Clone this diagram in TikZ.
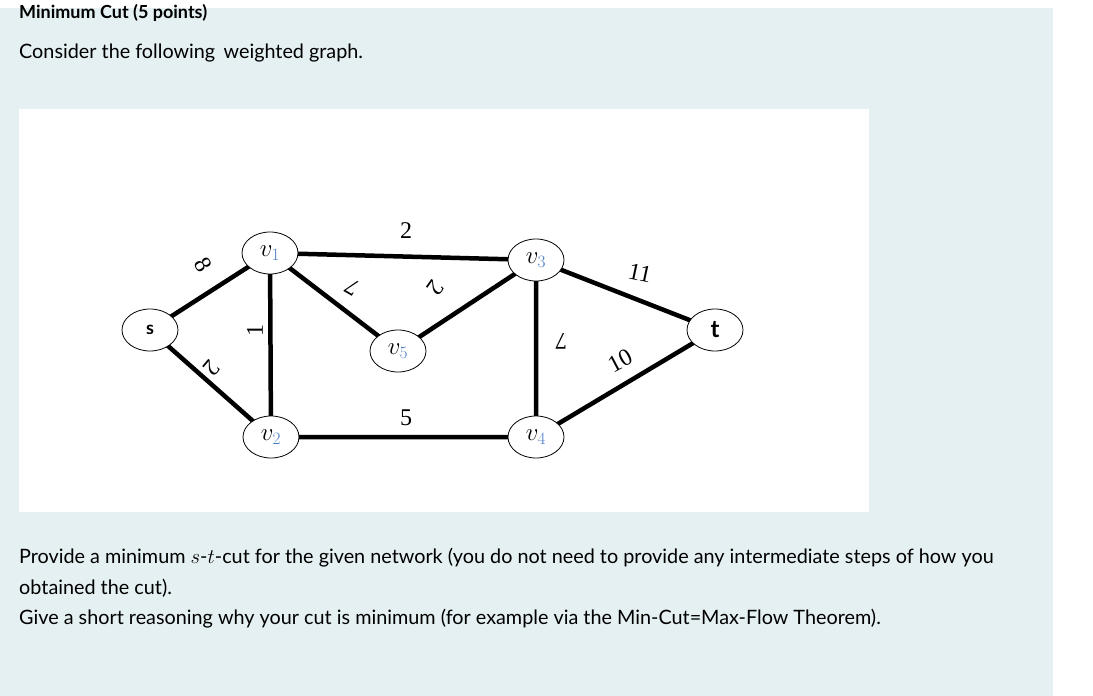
\documentclass[tikz,border=0pt]{standalone}
\usepackage{fontspec}
\setmainfont{Lato}
\newfontfamily\serifnum{Liberation Serif}
\usetikzlibrary{shapes.geometric}
\definecolor{panel}{HTML}{E5F0F2}
\definecolor{vblue}{HTML}{4A7CC4}
\begin{document}
\begin{tikzpicture}[x=1pt,y=-1pt,
  vert/.style={ellipse,draw,fill=white,line width=0.8pt,minimum width=56pt,minimum height=42pt,inner sep=0pt,font=\fontsize{24}{24}\selectfont},
  edge/.style={line width=4.5pt},
  wt/.style={font=\serifnum\fontsize{24}{24}\selectfont,inner sep=1pt},
  txt/.style={anchor=west,font=\fontsize{19.8}{23}\selectfont,inner sep=0pt}]
\useasboundingbox (0,0) rectangle (1093,696);
\fill[panel] (0,8) rectangle (1053,696);
\fill[white] (19,109) rectangle (869,512);
\node[txt,anchor=base west,font=\bfseries\fontsize{18}{20}\selectfont] (title) at (19,18) {Minimum Cut (5 points)};
\node[txt] (intro) at (19,53) {Consider the following\, weighted graph.};
\coordinate (ps) at (150,330);
\coordinate (p1) at (270,253);
\coordinate (p2) at (271,437);
\coordinate (p5) at (398,351);
\coordinate (p3) at (536,260);
\coordinate (p4) at (536,437);
\coordinate (pt) at (715,330);
\draw[edge] (ps) -- (p1) (ps) -- (p2) (p1) -- (p2) (p1) -- (p3) (p1) -- (p5) (p5) -- (p3) (p2) -- (p4) (p3) -- (p4) (p3) -- (pt) (p4) -- (pt);
\node[vert] (s) at (ps) {\bfseries\fontsize{18}{18}\selectfont s};
\node[vert] (v1) at (p1) {$v_{\textcolor{vblue}{1}}$};
\node[vert] (v2) at (p2) {$v_{\textcolor{vblue}{2}}$};
\node[vert] (v5) at (p5) {$v_{\textcolor{vblue}{5}}$};
\node[vert] (v3) at (p3) {$v_{\textcolor{vblue}{3}}$};
\node[vert] (v4) at (p4) {$v_{\textcolor{vblue}{4}}$};
\node[vert] (t) at (pt) {\bfseries t};
\node[wt,rotate=-60] (w1) at (203,265) {8};
\node[wt,rotate=-130] (w2) at (212,368) {2};
\node[wt,rotate=90] (w3) at (255,330) {1};
\node[wt] (w4) at (406,231) {2};
\node[wt,rotate=150] (w5) at (352,287) {7};
\node[wt,rotate=-125] (w6) at (436,288) {2};
\node[wt] (w7) at (406,418) {5};
\node[wt,rotate=180] (w8) at (561,341) {7};
\node[wt,rotate=-12] (w9) at (640,273) {11};
\node[wt,rotate=28] (w10) at (620,361) {10};
\node[txt] (p1t) at (19,558) {Provide a minimum $s$-$t$-cut for the given network (you do not need to provide any intermediate steps of how you};
\node[txt] (p2t) at (19,588) {obtained the cut).};
\node[txt] (p3t) at (19,619) {Give a short reasoning why your cut is minimum (for example via the Min-Cut=Max-Flow Theorem).};
\end{tikzpicture}
\end{document}
